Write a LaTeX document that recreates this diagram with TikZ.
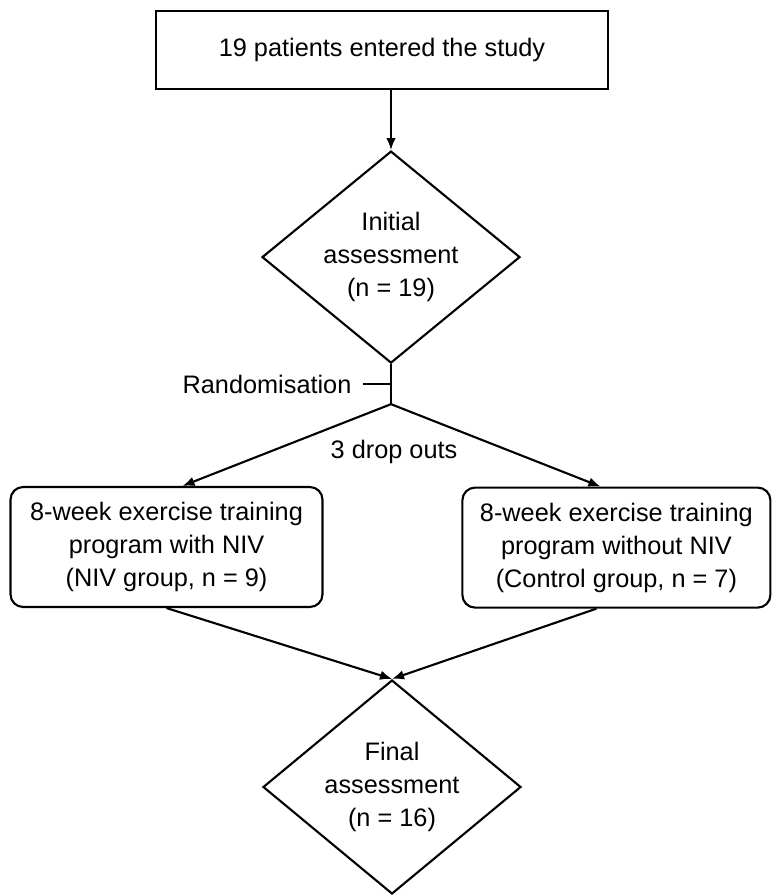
\documentclass[tikz,border=0pt]{standalone}
\usepackage{fontspec}
\setmainfont{Liberation Sans}
\usetikzlibrary{arrows.meta,positioning,shapes.geometric}

\begin{document}
\begin{tikzpicture}[
      font=\fontsize{18}{23.5}\selectfont,
      line width=1.5pt,
      box/.style={draw,align=center,minimum width=11.3cm,
                  minimum height=1.95cm,inner sep=0pt},
      grp/.style={draw,rounded corners=9pt,align=center,
                  minimum width=7.8cm,minimum height=3cm,inner sep=0pt},
      decision/.style={draw,diamond,aspect=1.22,align=center,inner sep=-4pt,
                       minimum width=6.45cm,minimum height=5.3cm},
      arr/.style={-{Latex[length=0.3cm,width=0.24cm]}}]
    \useasboundingbox (0,0) rectangle (19.325,-22.375);
    \node[box] (start) at (9.55,-1.25) {19 patients entered the study};
    \node[decision,below=1.5cm of start,xshift=0.225cm] (init)
      {Initial\\assessment\\(n = 19)};
    \coordinate[below=1cm of init] (split);
    \coordinate[below=0.5cm of init] (tick);
    \node[grp] (nivgrp) at (4.1625,-13.675)
      {8-week exercise training\\program with NIV\\(NIV group, n = 9)};
    \node[grp,minimum width=7.7cm] (ctrlgrp) at (15.41,-13.69)
      {8-week exercise training\\program without NIV\\(Control group, n = 7)};
    \node (drop) at (9.85,-11.3) {3 drop outs};
    \node[decision,minimum height=5.35cm] (final) at (9.8,-19.675)
      {Final\\assessment\\(n = 16)};
    \draw[arr] (init.north |- start.south) -- (init.north);
    \draw (init.south) -- (split);
    \draw (tick) -- ++(-0.7,0) node[left,inner xsep=7.5pt] (rand) {Randomisation};
    \draw[arr] (split) -- ([xshift=0.4cm]nivgrp.north);
    \draw[arr] (split) -- ([xshift=-0.4cm]ctrlgrp.north);
    \draw[arr] (nivgrp.south) -- (final.north);
    \draw[arr] ([xshift=-0.5cm]ctrlgrp.south) -- (final.north);
  \end{tikzpicture}
\end{document}
